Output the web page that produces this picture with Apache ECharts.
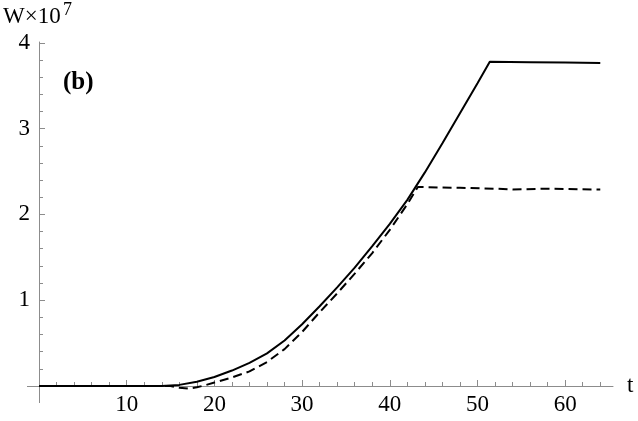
<!DOCTYPE html>
<html>
<head>
<meta charset="utf-8">
<script src="https://cdn.jsdelivr.net/npm/echarts@6/dist/echarts.min.js"></script>
<style>
  html, body { margin: 0; padding: 0; background: #fff; }
  #chart { width: 638px; height: 421px; }
</style>
</head>
<body>
<div id="chart"></div>
<script>
// values, W in units of 1e7
const solidT = [0, 14, 16, 18, 20, 22, 24, 26, 28, 30, 32, 34, 36, 38, 40, 42, 44, 46, 48, 50, 51.4, 56, 60, 64]
const solidW = [0, 0, 0.013, 0.05, 0.105, 0.18, 0.27, 0.38, 0.53, 0.72, 0.93, 1.15, 1.38, 1.63, 1.89, 2.17, 2.49, 2.83, 3.18, 3.53, 3.78, 3.775, 3.77, 3.765]
const dashT = [0, 15, 16, 17, 18, 19, 20, 22, 24, 26, 28, 30, 32, 34, 36, 38, 40, 42, 43.2, 48, 52, 54, 58, 64]
const dashW = [0, 0, -0.02, -0.03, -0.015, 0.01, 0.04, 0.1, 0.17, 0.28, 0.43, 0.63, 0.86, 1.08, 1.31, 1.55, 1.82, 2.12, 2.32, 2.31, 2.3, 2.29, 2.3, 2.29]

const xMajor = [10, 20, 30, 40, 50, 60]
const xMinor = [2, 4, 6, 8, 12, 14, 16, 18, 22, 24, 26, 28, 32, 34, 36, 38, 42, 44, 46, 48, 52, 54, 56, 58, 62, 64]
const yMajor = [1, 2, 3, 4]
const yMinor = [0.2, 0.4, 0.6, 0.8, 1.2, 1.4, 1.6, 1.8, 2.2, 2.4, 2.6, 2.8, 3.2, 3.4, 3.6, 3.8]

const zip = (a, b) => a.map((v, i) => [v, b[i]])

const chart = echarts.init(document.getElementById('chart'))
const axisGray = '#8c8c8c'
const serif = 'Liberation Serif'

// grid edges sit on t=0 and W=0, the axes stick out a little past the origin
const gridLeft = 39
const gridBottom = 35

const option = {
  backgroundColor: '#fff',
  animation: false,
  grid: { left: gridLeft, right: 25, top: 42, bottom: gridBottom, containLabel: false, outerBoundsMode: 'none' },
  graphic: [
    { type: 'text', left: 3, top: 5, style: { text: 'W×10', fontFamily: serif, fontSize: 23, fill: '#000' } },
    { type: 'text', left: 63, top: 1, style: { text: '7', fontFamily: serif, fontSize: 18, fill: '#000' } },
    { type: 'text', left: 63, top: 70, style: { text: '(b)', fontFamily: serif, fontSize: 25, fontWeight: 'bold', fill: '#000' } },
    // axis stubs left of / below the origin
    { type: 'line', shape: { x1: 27, y1: 421 - gridBottom + 0.5, x2: gridLeft, y2: 421 - gridBottom + 0.5 }, style: { stroke: axisGray, lineWidth: 1 } },
    { type: 'line', shape: { x1: gridLeft + 0.5, y1: 421 - gridBottom, x2: gridLeft + 0.5, y2: 403 }, style: { stroke: axisGray, lineWidth: 1 } }
  ],
  xAxis: [{
    type: 'value',
    min: 0,
    max: 65.45,
    name: 't',
    nameLocation: 'end',
    nameGap: 14,
    nameTextStyle: { fontFamily: serif, fontSize: 23, color: '#000' },
    axisLine: { onZero: false, lineStyle: { color: axisGray, width: 1 } },
    axisTick: { inside: true, length: 6, customValues: xMajor, lineStyle: { color: axisGray } },
    axisLabel: { customValues: xMajor, fontFamily: serif, fontSize: 23, color: '#000', margin: 7 },
    splitLine: { show: false }
  }, {
    type: 'value',
    min: 0,
    max: 65.45,
    position: 'bottom',
    axisLine: { show: false, onZero: false },
    axisTick: { inside: true, length: 4, customValues: xMinor, lineStyle: { color: axisGray } },
    axisLabel: { show: false },
    splitLine: { show: false }
  }],
  yAxis: [{
    type: 'value',
    min: 0,
    max: 4.01,
    axisLine: { onZero: false, lineStyle: { color: axisGray, width: 1 } },
    axisTick: { inside: true, length: 6, customValues: yMajor, lineStyle: { color: axisGray } },
    axisLabel: { customValues: yMajor, fontFamily: serif, fontSize: 23, color: '#000', margin: 9 },
    splitLine: { show: false }
  }, {
    type: 'value',
    min: 0,
    max: 4.01,
    position: 'left',
    axisLine: { show: false, onZero: false },
    axisTick: { inside: true, length: 4, customValues: yMinor, lineStyle: { color: axisGray } },
    axisLabel: { show: false },
    splitLine: { show: false }
  }],
  series: [{
    type: 'line',
    data: zip(solidT, solidW),
    showSymbol: false,
    clip: false,
    lineStyle: { color: '#000', width: 2 }
  }, {
    type: 'line',
    data: zip(dashT, dashW),
    showSymbol: false,
    clip: false,
    lineStyle: { color: '#000', width: 2, type: [9, 5] }
  }]
}

chart.setOption(option)
</script>
</body>
</html>
